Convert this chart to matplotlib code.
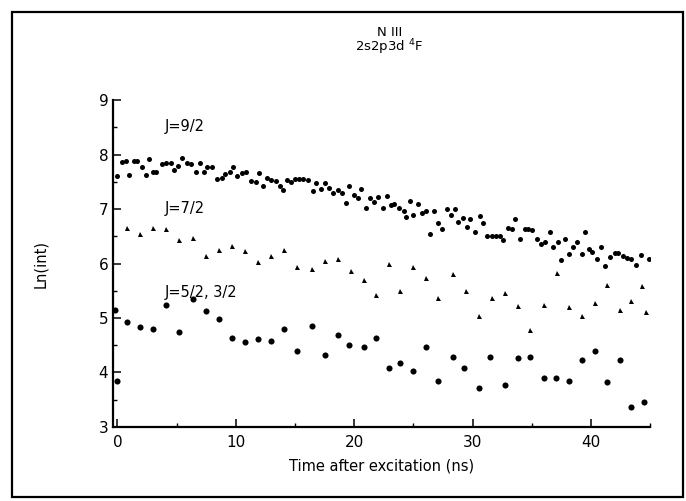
import matplotlib
matplotlib.use("Agg")
import matplotlib.pyplot as plt
from matplotlib.patches import Rectangle
from matplotlib.ticker import MultipleLocator

# J=9/2 (dense decay curve)
t_92 = [0.0, 0.4, 0.7, 1.0, 1.4, 1.7, 2.1, 2.4, 2.7, 3.0, 3.3, 3.8, 4.1, 4.5, 4.8,
        5.1, 5.5, 5.9, 6.2, 6.6, 7.0, 7.3, 7.6, 8.0, 8.4, 8.8, 9.1, 9.5, 9.8, 10.1,
        10.5, 10.9, 11.3, 11.7, 12.0, 12.3, 12.6, 13.0, 13.4, 13.7, 14.0, 14.3, 14.7,
        15.0, 15.3, 15.7, 16.1, 16.5, 16.8, 17.2, 17.5, 17.9, 18.2, 18.6, 19.0, 19.3,
        19.6, 20.0, 20.3, 20.6, 21.0, 21.3, 21.7, 22.0, 22.4, 22.8, 23.1, 23.4, 23.8,
        24.2, 24.4, 24.7, 25.0, 25.4, 25.7, 26.1, 26.4, 26.7, 27.1, 27.4, 27.8, 28.2,
        28.5, 28.8, 29.2, 29.5, 29.8, 30.2, 30.6, 30.9, 31.2, 31.6, 32.0, 32.3, 32.6,
        33.0, 33.3, 33.6, 34.0, 34.4, 34.7, 35.0, 35.4, 35.8, 36.1, 36.5, 36.8, 37.2,
        37.5, 37.8, 38.1, 38.5, 38.8, 39.2, 39.5, 39.8, 40.1, 40.5, 40.8, 41.2, 41.6,
        42.0, 42.3, 42.7, 43.0, 43.4, 43.8, 44.2, 44.9]
ln_92 = [7.61, 7.87, 7.89, 7.63, 7.89, 7.89, 7.78, 7.63, 7.92, 7.69, 7.69, 7.82, 7.85, 7.84, 7.71,
         7.80, 7.93, 7.84, 7.83, 7.69, 7.84, 7.69, 7.78, 7.78, 7.56, 7.58, 7.65, 7.69, 7.78, 7.61,
         7.66, 7.69, 7.52, 7.50, 7.67, 7.42, 7.58, 7.53, 7.52, 7.42, 7.35, 7.53, 7.50,
         7.56, 7.56, 7.56, 7.54, 7.34, 7.47, 7.37, 7.48, 7.39, 7.29, 7.35, 7.29, 7.11,
         7.42, 7.26, 7.20, 7.37, 7.02, 7.21, 7.13, 7.22, 7.02, 7.24, 7.07, 7.09, 7.02,
         6.96, 6.86, 7.14, 6.90, 7.09, 6.92, 6.96, 6.55, 6.96, 6.75, 6.63, 7.00, 6.90,
         7.00, 6.76, 6.84, 6.68, 6.82, 6.57, 6.87, 6.75, 6.51, 6.51, 6.51, 6.50, 6.44,
         6.66, 6.63, 6.82, 6.45, 6.64, 6.64, 6.62, 6.45, 6.36, 6.39, 6.57, 6.31, 6.39,
         6.06, 6.45, 6.17, 6.30, 6.40, 6.17, 6.57, 6.26, 6.21, 6.08, 6.31, 5.95, 6.12,
         6.20, 6.20, 6.14, 6.10, 6.08, 5.97, 6.16, 6.08]

# J=7/2 (triangles)
t_72 = [0.8, 1.9, 3.0, 4.1, 5.2, 6.4, 7.5, 8.6, 9.7, 10.8, 11.9, 13.0, 14.1, 15.2,
        16.4, 17.5, 18.6, 19.7, 20.8, 21.8, 22.9, 23.9, 25.0, 26.1, 27.1, 28.3, 29.4,
        30.5, 31.6, 32.7, 33.8, 34.8, 36.0, 37.1, 38.1, 39.2, 40.3, 41.3, 42.4, 43.4,
        44.3, 44.6]
ln_72 = [6.66, 6.54, 6.66, 6.64, 6.43, 6.46, 6.14, 6.24, 6.33, 6.23, 6.03, 6.14, 6.25, 5.93,
         5.90, 6.04, 6.09, 5.86, 5.69, 5.43, 6.00, 5.50, 5.93, 5.74, 5.37, 5.81, 5.50,
         5.03, 5.37, 5.46, 5.22, 4.78, 5.23, 5.82, 5.21, 5.04, 5.28, 5.60, 5.15, 5.32,
         5.58, 5.11]

# J=5/2, 3/2 (large dots)
t_52 = [-0.2, 0.0, 0.8, 1.9, 3.0, 4.1, 5.2, 6.4, 7.5, 8.6, 9.7, 10.8, 11.9, 13.0,
        14.1, 15.2, 16.4, 17.5, 18.6, 19.6, 20.8, 21.8, 22.9, 23.9, 25.0, 26.1, 27.1,
        28.3, 29.3, 30.5, 31.5, 32.7, 33.8, 34.8, 36.0, 37.0, 38.1, 39.2, 40.3, 41.3,
        42.4, 43.4, 44.5]
ln_52 = [5.15, 3.85, 4.92, 4.83, 4.79, 5.24, 4.74, 5.35, 5.12, 4.98, 4.63, 4.55, 4.61, 4.58,
         4.80, 4.40, 4.86, 4.32, 4.69, 4.51, 4.47, 4.64, 4.09, 4.18, 4.03, 4.46, 3.85,
         4.29, 4.09, 3.71, 4.29, 3.77, 4.27, 4.28, 3.89, 3.90, 3.85, 4.23, 4.40, 3.82,
         4.22, 3.37, 3.45]

labels = ["J=9/2", "J=7/2", "J=5/2, 3/2"]
label_pos = [(4.0, 8.52), (4.0, 7.01), (4.0, 5.47)]

plt.rcParams['font.family'] = ['DejaVu Sans']

fig = plt.figure(figsize=(6.86, 5.01), dpi=100)
ax = fig.add_axes([0.165, 0.148, 0.783, 0.652])

ax.plot(t_92, ln_92, 'o', color='black', markersize=3.6, markeredgewidth=0)
ax.plot(t_72, ln_72, '^', color='black', markersize=3.6, markeredgewidth=0)
ax.plot(t_52, ln_52, 'o', color='black', markersize=4.4, markeredgewidth=0)

for text, (x, y) in zip(labels, label_pos):
    ax.text(x, y, text, fontsize=10.5, ha='left', va='center')

ax.set_xlim(-0.35, 45)
ax.set_ylim(3, 9)
ax.xaxis.set_major_locator(MultipleLocator(10))
ax.xaxis.set_minor_locator(MultipleLocator(5))
ax.yaxis.set_major_locator(MultipleLocator(1))
ax.yaxis.set_minor_locator(MultipleLocator(0.5))
ax.tick_params(which='major', direction='in', length=6, width=1.1, labelsize=11)
ax.tick_params(which='minor', direction='in', length=3, width=1.0)
ax.tick_params(axis='x', pad=6)
ax.spines['top'].set_visible(False)
ax.spines['right'].set_visible(False)
ax.spines['left'].set_linewidth(1.6)
ax.spines['bottom'].set_linewidth(1.6)

ax.set_xlabel('Time after excitation (ns)', fontsize=10.5, labelpad=6)
ax.set_ylabel('Ln(int)', fontsize=10.5, labelpad=36)

fig.text(0.568, 0.935, 'N III', ha='center', va='center', fontsize=9.5)
fig.text(0.568, 0.905, r'2s2p3d $^4$F', ha='center', va='center', fontsize=9.5)

# outer frame of the scanned figure
fig.patches.append(Rectangle((0.017, 0.008), 0.978, 0.968, transform=fig.transFigure,
                             fill=False, edgecolor='black', linewidth=1.6))

fig.savefig('out.png', dpi=100)
